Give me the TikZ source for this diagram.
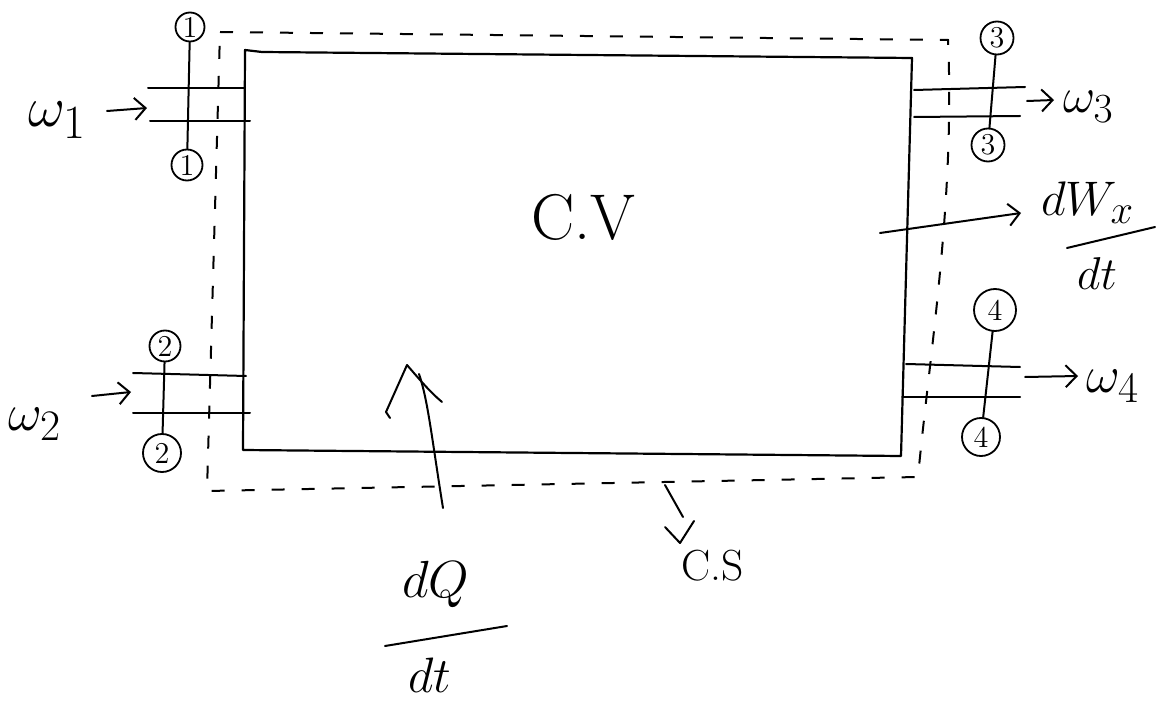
\documentclass[tikz,border=0pt]{standalone}
\usetikzlibrary{arrows.meta}
\newcommand{\handm}[2]{\scalebox{#1}{\fontsize{24.88}{30}\selectfont$#2$}}
\newcommand{\stnum}[1]{\scalebox{2.1}{\Large #1}}
\begin{document}
\begin{tikzpicture}[x=1pt,y=-1pt,
 wall/.style={line width=2.2pt, line cap=round, line join=round},
 csline/.style={line width=2pt, dash pattern=on 13pt off 17pt},
 pipe/.style={line width=2pt, line cap=round},
 station/.style={circle, draw, line width=1.8pt, inner sep=0pt},
 flow/.style={line width=2pt, line cap=round, -{Straight Barb[length=11pt,width=22pt,line width=2pt]}},
 hand/.style={line width=2pt, line cap=round, line join=round},
 lbl/.style={inner sep=0pt, anchor=base west},
]
\useasboundingbox (0,0) rectangle (1165,703);

% control volume (solid)
\coordinate (tl) at (245,50);
\coordinate (tr) at (912,58);
\coordinate (br) at (901,456);
\coordinate (bl) at (243,450);
\draw[wall] (262,52) -- (tr) -- (br) -- (bl) -- (tl) -- (262,52);

% control surface (dashed)
\coordinate (dtl) at (220,32);
\coordinate (dtr) at (948,40);
\coordinate (dbr) at (918,477);
\coordinate (dbl) at (207,491);
\draw[csline] (dtl) -- (dtr) .. controls (955,200) and (930,350) .. (dbr) -- (dbl) -- (dtl);

% inlet 1
\draw[pipe] (148,88) -- (245,88);
\draw[pipe] (150,121) -- (250,121);
\node[station, minimum size=29pt] (c1a) at (190,27) {\stnum{1}};
\node[station, minimum size=31pt] (c1b) at (187,165) {\stnum{1}};
\draw[pipe] (c1a) -- (c1b);
\coordinate (a1s) at (107,111); \coordinate (a1e) at (147,108);
\draw[flow] (a1s) -- (a1e);
\node[lbl] (w1) at (28,127) {\handm{2.3}{\omega_1}};

% inlet 2
\draw[pipe] (133,373) -- (246,376);
\draw[pipe] (133,413) -- (250,413);
\node[station, minimum size=31pt] (c2a) at (165,346) {\stnum{2}};
\node[station, minimum size=38pt] (c2b) at (162,453) {\stnum{2}};
\draw[pipe] (c2a) -- (c2b);
\coordinate (a2s) at (92,396); \coordinate (a2e) at (131,392);
\draw[flow] (a2s) -- (a2e);
\node[lbl] (w2) at (8,430) {\handm{2.1}{\omega_2}};

% outlet 3
\draw[pipe] (914,90) -- (1025,87);
\draw[pipe] (914,117) -- (1020,116);
\node[station, minimum size=33pt] (c3a) at (997,38) {\stnum{3}};
\node[station, minimum size=33pt] (c3b) at (988,145) {\stnum{3}};
\draw[pipe] (c3a) -- (c3b);
\coordinate (a3s) at (1027,101); \coordinate (a3e) at (1054,100);
\draw[flow] (a3s) -- (a3e);
\node[lbl] (w3) at (1063,113) {\handm{2.0}{\omega_3}};

% outlet 4
\draw[pipe] (906,364) -- (1020,367);
\draw[pipe] (902,397) -- (1020,397);
\node[station, minimum size=42pt] (c4a) at (995,310) {\stnum{4}};
\node[station, minimum size=38pt] (c4b) at (981,437) {\stnum{4}};
\draw[pipe] (c4a) -- (c4b);
\coordinate (a4s) at (1025,377); \coordinate (a4e) at (1078,376);
\draw[flow] (a4s) -- (a4e);
\node[lbl] (w4) at (1086,392) {\handm{2.1}{\omega_4}};

% C.V label
\node[lbl] (cv) at (531,240) {\scalebox{2.6}{\Huge C.V}};

% work arrow
\coordinate (wxs) at (880,233); \coordinate (wxe) at (1021,213);
\draw[flow] (wxs) -- (wxe);
\node[lbl] (dwx) at (1041,216) {\handm{1.95}{dW_x}};
\draw[hand] (1067,248) -- (1155,227);
\node[lbl] (dt1) at (1077,290) {\handm{1.85}{dt}};

% heat arrow
\coordinate (qs) at (443,508); \coordinate (qe) at (419,374);
\draw[hand] (qs) .. controls (432,440) and (428,400) .. (qe);
\draw[hand] (390,418) -- (386,412) -- (407,365) .. controls (420,380) and (430,392) .. (442,402);
\node[lbl] (dq) at (402,597) {\handm{2.1}{dQ}};
\draw[hand] (385,646) -- (507,626);
\node[lbl] (dt2) at (408,692) {\handm{2.0}{dt}};

% C.S label
\coordinate (css) at (665,485); \coordinate (cse) at (683,517);
\draw[hand] (css) -- (cse);
\draw[hand] (665,527) -- (680,543) -- (694,521);
\node[lbl] (cslbl) at (681,580) {\scalebox{1.75}{\Huge C.S}};
\end{tikzpicture}
\end{document}
